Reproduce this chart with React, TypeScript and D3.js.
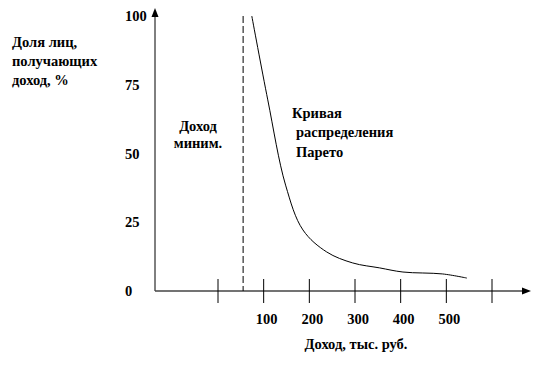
import React from "react";
import * as d3 from "d3";

// значения
const shareTicks = [0, 25, 50, 75, 100];
const incomeTicks = [0, 100, 200, 300, 400, 500, 600];
const incomeLabels = [100, 200, 300, 400, 500];
const minIncome = 55;
const paretoIncome = [74, 109, 148, 186, 238, 295, 354, 405, 492, 545];
const paretoShare = [100, 69.5, 38.5, 22.2, 14.2, 10.2, 8.4, 6.9, 6.2, 4.7];

const W = 533;
const H = 366;
const font = "Liberation Serif, DejaVu Serif, serif";

export default function App() {
  const x = d3.scaleLinear().domain([0, 600]).range([218, 492]);
  const y = d3.scaleLinear().domain([0, 100]).range([291, 16]);
  const axisX = 155;
  const axisY = y(0);

  const line = d3
    .line<number>()
    .x((_, i) => x(paretoIncome[i]))
    .y((d) => y(d))
    .curve(d3.curveCatmullRom.alpha(0.5));

  const txt = { fontFamily: font, fontWeight: 700, fontSize: 14.5, fill: "#000" } as const;

  return (
    <svg
      width={W}
      height={H}
      style={{ position: "absolute", left: 0, top: 0, background: "#fff" }}
    >
      {/* ось Y */}
      <line x1={axisX} y1={axisY} x2={axisX} y2={14} stroke="#000" strokeWidth={1} />
      <polygon points={`${axisX},8 ${axisX - 3.5},17 ${axisX + 3.5},17`} fill="#000" />
      {shareTicks.map((t) => (
        <text key={t} x={125} y={y(t)} dominantBaseline="central" {...txt}>
          {t}
        </text>
      ))}

      {/* ось X */}
      <line x1={axisX} y1={axisY} x2={524} y2={axisY} stroke="#444" strokeWidth={1.5} />
      <polygon points={`531,${axisY} 522,${axisY - 3.5} 522,${axisY + 3.5}`} fill="#000" />
      {incomeTicks.map((t) => (
        <line key={t} x1={x(t)} x2={x(t)} y1={axisY - 12} y2={axisY + 12} stroke="#000" strokeWidth={1} />
      ))}
      {incomeLabels.map((t) => (
        <text key={t} x={x(t) + 3} y={319} textAnchor="middle" dominantBaseline="central" {...txt}>
          {t}
        </text>
      ))}
      <text x={356} y={344} textAnchor="middle" dominantBaseline="central" {...txt}>
        Доход, тыс. руб.
      </text>

      {/* подпись оси Y */}
      <text x={12} y={42} dominantBaseline="central" {...txt}>Доля лиц,</text>
      <text x={12} y={61} dominantBaseline="central" {...txt}>получающих</text>
      <text x={12} y={80} dominantBaseline="central" {...txt}>доход, %</text>

      {/* минимальный доход */}
      <line
        x1={x(minIncome)}
        x2={x(minIncome)}
        y1={y(100)}
        y2={axisY}
        stroke="#000"
        strokeWidth={1}
        strokeDasharray="7,3"
      />
      <text x={198} y={126} textAnchor="middle" dominantBaseline="central" {...txt}>Доход</text>
      <text x={198} y={143} textAnchor="middle" dominantBaseline="central" {...txt}>миним.</text>

      {/* кривая Парето */}
      <path d={line(paretoShare) ?? ""} fill="none" stroke="#000" strokeWidth={1} />
      <text x={292} y={113} dominantBaseline="central" {...txt}>Кривая</text>
      <text x={296} y={132} dominantBaseline="central" {...txt}>распределения</text>
      <text x={296} y={152} dominantBaseline="central" {...txt}>Парето</text>
    </svg>
  );
}
